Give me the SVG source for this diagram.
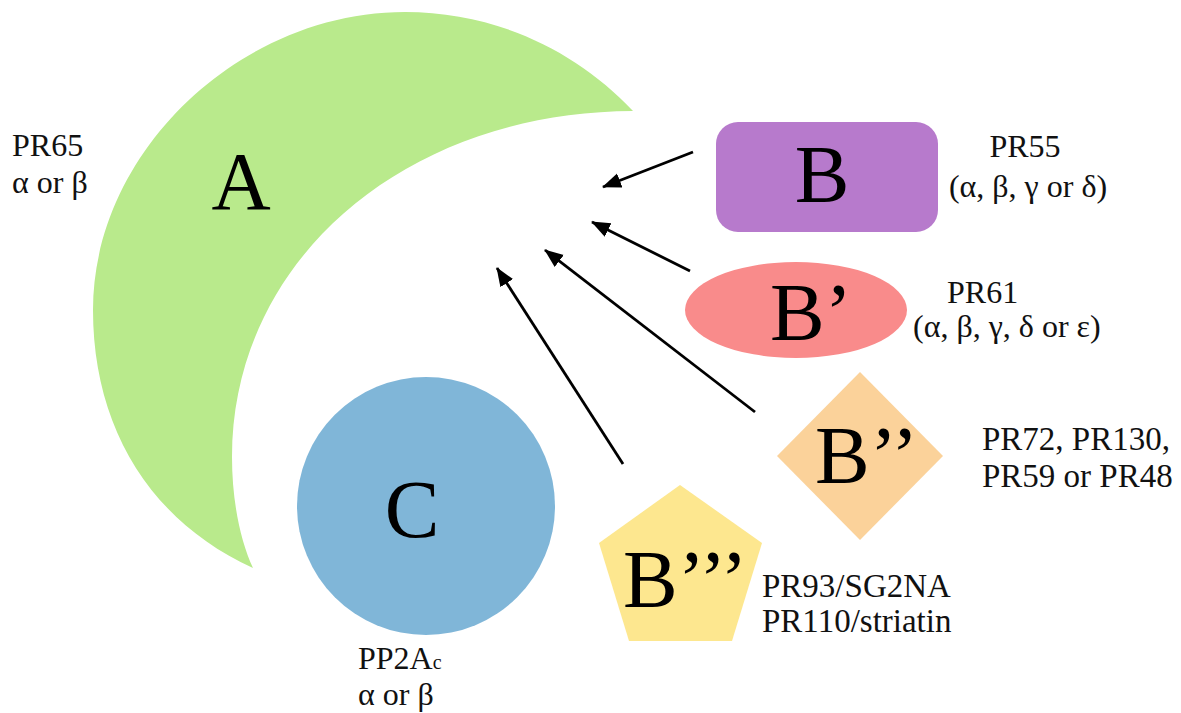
<svg xmlns="http://www.w3.org/2000/svg" width="1181" height="713" viewBox="0 0 1181 713">
<style>
.big{font-family:"Liberation Serif","Times New Roman",serif;font-size:82px;fill:#000}
.lbl{font-family:"Liberation Serif","Times New Roman",serif;font-size:32px;fill:#111}
.lbl2{font-family:"Liberation Serif","Times New Roman",serif;font-size:33px;fill:#111}
.arr{stroke:#000;stroke-width:2.8;fill:none;marker-end:url(#ah)}
</style>
<defs>
<marker id="ah" markerUnits="userSpaceOnUse" markerWidth="20" markerHeight="16" refX="18" refY="7.5" orient="auto">
<path d="M0,0 L19,7.5 L0,15 Z" fill="#000"/>
</marker>
</defs>
<rect width="1181" height="713" fill="#fff"/>
<g id="nodeA">
<path d="M633,111 C576,50 495,12 405,12 C240,12 93,152 93,310 C93,425 148,520 253,568 C240,540 232,500 232,457 C232,260 405,112 633,111 Z" fill="#b9ea8c"/>
<text class="big" x="241" y="209" text-anchor="middle">A</text>
<text class="lbl" x="12" y="156">PR65</text>
<text class="lbl" x="12" y="193">α or β</text>
</g>
<g id="nodeB">
<rect x="716" y="122" width="222" height="110" rx="22" fill="#b77acc"/>
<text class="big" x="822" y="202" text-anchor="middle">B</text>
<text class="lbl" x="1025" y="157" text-anchor="middle">PR55</text>
<text class="lbl" x="1028" y="197" text-anchor="middle">(α, β, γ or δ)</text>
</g>
<g id="nodeB1">
<ellipse cx="796" cy="310" rx="111" ry="48" fill="#f98b8b"/>
<text class="big" x="770" y="340">B’</text>
<text class="lbl" x="947" y="303">PR61</text>
<text class="lbl" x="913" y="337">(α, β, γ, δ or ε)</text>
</g>
<g id="nodeB2">
<polygon points="860,372 943,456 860,540 777,456" fill="#fbd29a"/>
<text class="big" x="815" y="483">B’’</text>
<text class="lbl2" x="982" y="450">PR72, PR130,</text>
<text class="lbl2" x="982" y="487">PR59 or PR48</text>
</g>
<g id="nodeB3">
<polygon points="680,485 762,543 732,641 629,641 599,543" fill="#fde78f"/>
<text class="big" x="623" y="607">B’’’</text>
<text class="lbl2" x="762" y="597">PR93/SG2NA</text>
<text class="lbl2" x="762" y="632">PR110/striatin</text>
</g>
<g id="nodeC">
<circle cx="426" cy="506" r="129" fill="#80b6d8"/>
<text class="big" x="412" y="537" text-anchor="middle">C</text>
<text class="lbl" x="358" y="669">PP2A<tspan font-size="20">c</tspan></text>
<text class="lbl" x="358" y="705">α or β</text>
</g>
<g id="connectors">
<line class="arr" x1="693" y1="152" x2="603" y2="187"/>
<line class="arr" x1="690" y1="271" x2="592" y2="222"/>
<line class="arr" x1="755" y1="412" x2="545" y2="250"/>
<line class="arr" x1="623" y1="464" x2="497" y2="268"/>
</g>
</svg>
